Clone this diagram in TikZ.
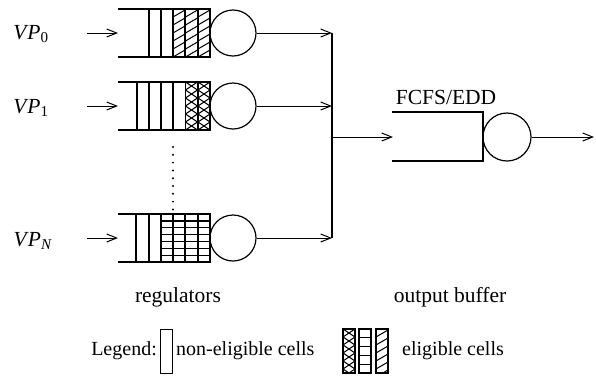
\documentclass[tikz,border=0pt]{standalone}
\usepackage{fontspec}
\setmainfont{Liberation Serif}
\usetikzlibrary{arrows.meta}

% cell fillings; #1 = left x, #2 = top y, #3 = height (cells are 12 wide)
\newcommand\hatchcell[3]{%
  \begin{scope}
    \clip (#1,#2) rectangle ++(12,#3);
    \foreach \k in {-1,...,7} \draw[fill line] (#1,#2+\k*8+8) -- ++(12,-7);
  \end{scope}
  \draw[box line] (#1,#2) rectangle ++(12,#3)}
\newcommand\crosscell[3]{%
  \begin{scope}
    \clip (#1,#2) rectangle ++(12,#3);
    \foreach \k in {0,...,6} {
      \draw[fill line] (#1,#2+\k*8) -- ++(12,8);
      \draw[fill line] (#1,#2+\k*8+8) -- ++(12,-8);
    }
  \end{scope}
  \draw[box line] (#1,#2) rectangle ++(12,#3)}
\newcommand\gridcell[4]{% #4 = row pitch
  \begin{scope}
    \clip (#1,#2) rectangle ++(12,#3);
    \foreach \k in {1,...,8} \draw[box line] (#1,#2+\k*#4) -- ++(12,0);
  \end{scope}
  \draw[box line] (#1,#2) rectangle ++(12,#3)}

\begin{document}
\begin{tikzpicture}[x=1pt,y=-1pt,
  box line/.style={line width=1.3pt},
  fill line/.style={line width=1pt},
  flow/.style={line width=1pt,-{Straight Barb[length=10pt,width=8pt,line width=1pt]}},
  server/.style={circle,draw,line width=1.2pt,minimum size=46pt,inner sep=0pt},
  lbl/.style={inner sep=0pt,font=\fontsize{21.5}{24}\selectfont},
  lgd/.style={inner sep=0pt,font=\fontsize{20}{24}\selectfont}]
\useasboundingbox (0,0) rectangle (596,384);

% ---------- regulator 0 ----------
\node[lbl] (vp0) at (31,34) {\textit{V\kern1pt P}\textsubscript{0}};
\draw[box line] (118,9) -- (210,9) (118,57) -- (210,57);
\draw[box line] (149,9) -- (149,57) (161,9) -- (161,57);
\hatchcell{173}{9}{48};
\hatchcell{185.5}{9}{48};
\hatchcell{198}{9}{48};
\node[server] (s0) at (233,33) {};
\coordinate (in0) at (118,33);
\coordinate (a0) at (87,33);
\draw[flow] (a0) -- (in0);

% ---------- regulator 1 ----------
\node[lbl] (vp1) at (31,108) {\textit{V\kern1pt P}\textsubscript{1}};
\draw[box line] (118,82) -- (210,82) (118,130) -- (210,130);
\draw[box line] (137,82) -- (137,130) (149,82) -- (149,130)
  (161,82) -- (161,130) (173,82) -- (173,130);
\crosscell{185.5}{82}{48};
\crosscell{198}{82}{48};
\node[server] (s1) at (233,106) {};
\coordinate (in1) at (118,106);
\coordinate (a1) at (87,106);
\draw[flow] (a1) -- (in1);

% ---------- dots ----------
\foreach \k in {0,...,8} \fill (173,147+\k*7.8) circle (1.1pt);

% ---------- regulator N ----------
\node[lbl] (vpn) at (33,241) {\textit{V\kern1pt P}\textsubscript{\textit{N}}};
\draw[box line] (118,214) -- (210,214) (118,262) -- (210,262);
\draw[box line] (136,214) -- (136,262) (149,214) -- (149,262);
\gridcell{161}{214}{48}{6.86};
\gridcell{173}{214}{48}{6.86};
\gridcell{185.5}{214}{48}{6.86};
\gridcell{198}{214}{48}{6.86};
\node[server] (sn) at (233,238) {};
\coordinate (inn) at (118,238);
\coordinate (an) at (87,238);
\draw[flow] (an) -- (inn);

% ---------- merging bus ----------
\coordinate (busTop) at (332,33);
\coordinate (busBot) at (332,238);
\draw[line width=1.2pt] (busTop) -- (busBot);
\draw[flow] (s0.east) -- (s0.east -| busTop);
\draw[flow] (s1.east) -- (s1.east -| busTop);
\draw[flow] (sn.east) -- (sn.east -| busTop);

% ---------- output buffer ----------
\coordinate (busOut) at (332,137);
\coordinate (obIn) at (393,137);
\draw[flow] (busOut) -- (obIn);
\draw[box line] (392,112) -- (483,112) -- (483,161) -- (392,161);
\node[server,minimum size=48pt] (so) at (507,137) {};
\coordinate (out) at (594,137);
\draw[flow] (so.east) -- (out);
\node[lbl] (fcfs) at (446,97) {FCFS/EDD};

% ---------- captions ----------
\node[lbl] (reg) at (178,297) {regulators};
\node[lbl] (obuf) at (450,297) {output buffer};

% ---------- legend ----------
\node[lgd,anchor=east] (lg) at (157,351) {Legend:};
\draw[line width=1pt] (160,329) rectangle (172,373);
\node[lgd,anchor=west] (ne) at (176,351) {non-eligible cells};
\crosscell{343}{329}{44};
\gridcell{359}{329}{44}{8.8};
\hatchcell{376}{329}{44};
\node[lgd,anchor=west] (el) at (402,351) {eligible cells};
\end{tikzpicture}
\end{document}
